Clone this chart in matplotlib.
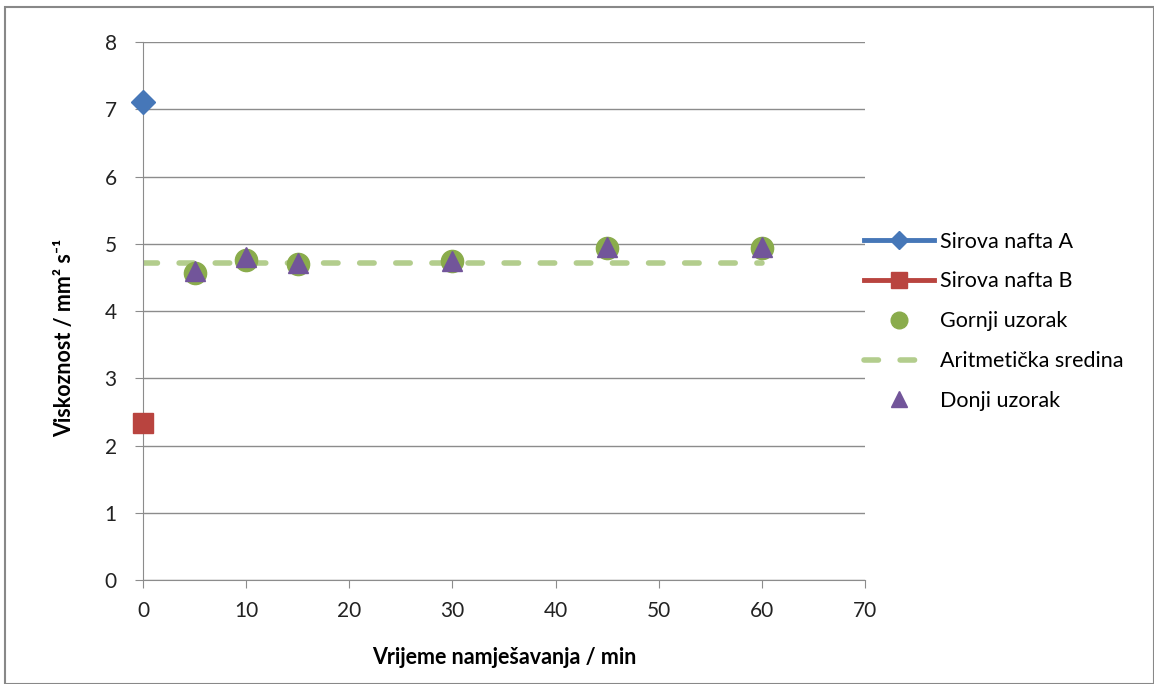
import matplotlib.pyplot as plt
from matplotlib.patches import Rectangle

# data
time_a = [0]
visc_a = [7.11]
time_b = [0]
visc_b = [2.33]
time_samples = [5, 10, 15, 30, 45, 60]
visc_upper = [4.56, 4.76, 4.70, 4.75, 4.93, 4.93]
visc_lower = [4.60, 4.80, 4.72, 4.75, 4.95, 4.95]
time_mean = [0, 60]
visc_mean = [4.71, 4.71]

plt.rcParams['font.family'] = ['Lato', 'DejaVu Sans']

fig = plt.figure(figsize=(11.54, 6.84), dpi=100)
ax = fig.add_axes([0.124, 0.152, 0.6256, 0.7866])

# outer frame like the exported chart area
fig.patches.append(Rectangle((0.004, 0.0), 0.996, 0.99, transform=fig.transFigure,
                             fill=False, edgecolor='#888888', linewidth=1.5))

ax.plot(time_a, visc_a, '-D', color='#4677b8', markersize=12, linewidth=3.5,
        label='Sirova nafta A', zorder=4, clip_on=False)
ax.plot(time_b, visc_b, '-s', color='#b9443f', markersize=15, linewidth=3.5,
        label='Sirova nafta B', zorder=4, clip_on=False)
ax.plot(time_samples, visc_upper, 'o', color='#8aac4c', markersize=16, linestyle='none',
        label='Gornji uzorak', zorder=3)
ax.plot(time_mean, visc_mean, color='#b3cd8d', linewidth=4, dashes=(2.6, 3.9),
        dash_capstyle='round', label='Aritmetička sredina', zorder=2)
ax.plot(time_samples, visc_lower, '^', color='#72559a', markersize=15, linestyle='none',
        label='Donji uzorak', zorder=5)

ax.set_xlim(0, 70)
ax.set_ylim(0, 8)
ax.set_xticks(range(0, 71, 10))
ax.set_yticks(range(0, 9))
ax.yaxis.grid(True, color='#8c8c8c', linewidth=1)
ax.set_axisbelow(True)
for s in ['top', 'right']:
    ax.spines[s].set_visible(False)
for s in ['left', 'bottom']:
    ax.spines[s].set_color('#8c8c8c')
ax.tick_params(axis='both', direction='out', length=6, color='#8c8c8c',
               labelsize=15, labelcolor='#222222')
ax.tick_params(axis='y', pad=13)
ax.tick_params(axis='x', pad=9)

ax.set_xlabel('Vrijeme namješavanja / min', fontsize=15.5, fontweight='bold')
ax.set_ylabel('Viskoznost / mm² s⁻¹', fontsize=15.5, fontweight='bold')
ax.xaxis.set_label_coords(0.5, -0.125)
ax.yaxis.set_label_coords(-0.094, 0.45)

ax.legend(loc='center left', bbox_to_anchor=(0.986, 0.481), frameon=False,
          fontsize=15.5, handlelength=3.25, labelspacing=0.92, handletextpad=0.3,
          borderaxespad=0, markerscale=0.75)

fig.savefig('out.png', dpi=100)
